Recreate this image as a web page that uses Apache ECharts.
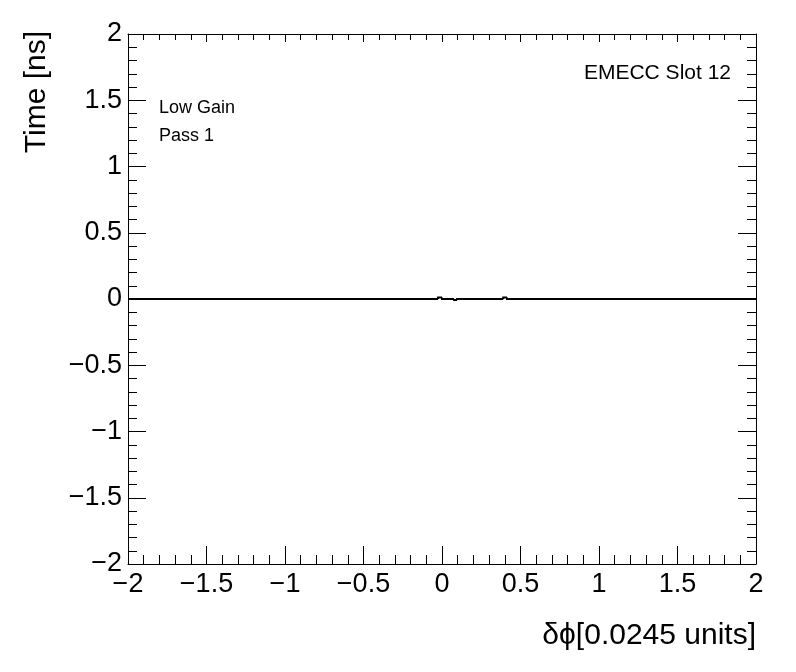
<!DOCTYPE html>
<html><head><meta charset="utf-8">
<script src="https://cdn.jsdelivr.net/npm/echarts@6/dist/echarts.min.js"></script>
<style>html,body{margin:0;padding:0;background:#fff}#c{width:796px;height:672px}</style>
</head><body><div id="c"></div>
<script>
// Data (histogram: bin lower edges and value of each bin; last edge closes the range)
const binEdges = [-2, -0.025, 0.0, 0.077, 0.096, 0.39, 0.414, 2];
const binTime  = [0, 0.012, 0, -0.008, 0, 0.012, 0];
const xTitle = 'δϕ[0.0245 units]';
const yTitle = 'Time [ns]';
const labels = ['EMECC Slot 12', 'Low Gain', 'Pass 1'];

// one record per bin: [low edge, high edge, value, previous bin value]
const bins = binTime.map((v, i) => [binEdges[i], binEdges[i + 1], v, i > 0 ? binTime[i - 1] : v]);

const FONT = '"Liberation Sans", Arial, Helvetica, sans-serif';
const fmt = v => String(+v.toFixed(2)).replace('-', '\u2212');
const chart = echarts.init(document.getElementById('c'), null, {renderer: 'canvas'});
const grid = {left: 128, top: 34, right: 40, bottom: 108};
function axisBase(show) {
  return {
    type: 'value', min: -2, max: 2, interval: 0.5,
    axisLine: {show: true, onZero: false, lineStyle: {color: '#000', width: 1}},
    axisTick: {show: true, inside: true, length: 18, lineStyle: {color: '#000', width: 1}},
    minorTick: {show: true, splitNumber: 5, length: 9, lineStyle: {color: '#000', width: 1}},
    splitLine: {show: false},
    axisLabel: {show: show, color: '#000', fontSize: 27, fontFamily: FONT, formatter: fmt},
  };
}
const xb = axisBase(true); xb.position = 'bottom'; xb.axisLabel.margin = 7;
const xt = axisBase(false); xt.position = 'top'; xt.axisTick.length = 8; xt.minorTick.length = 6;
const yl = axisBase(true); yl.position = 'left'; yl.axisLabel.margin = 6;
const yr = axisBase(false); yr.position = 'right'; yr.axisTick.length = 18; yr.minorTick.length = 9;

chart.setOption({
  animation: false,
  grid: grid,
  xAxis: [xb, xt],
  yAxis: [yl, yr],
  series: [{
    type: 'custom', xAxisIndex: 0, yAxisIndex: 0,
    data: bins,
    encode: {x: [0, 1], y: 2},
    renderItem: function (params, api) {
      const lo = api.value(0), hi = api.value(1), v = api.value(2), pv = api.value(3);
      return {
        type: 'polyline',
        shape: {points: [api.coord([lo, pv]), api.coord([lo, v]), api.coord([hi, v])]},
        style: {stroke: '#000', lineWidth: 2, fill: null}
      };
    }
  }],
  graphic: [
    {type: 'text', x: 756, y: 621, style: {text: xTitle, font: '30px ' + FONT, fill: '#000', align: 'right', verticalAlign: 'top'}},
    {type: 'text', x: 22, y: 31, rotation: Math.PI / 2,
      style: {text: yTitle, font: '30px ' + FONT, fill: '#000', align: 'right', verticalAlign: 'top'}},
    {type: 'text', x: 731, y: 63, style: {text: labels[0], font: '21px ' + FONT, fill: '#000', align: 'right', verticalAlign: 'top'}},
    {type: 'text', x: 159, y: 99, style: {text: labels[1], font: '18px ' + FONT, fill: '#000', verticalAlign: 'top'}},
    {type: 'text', x: 159, y: 127, style: {text: labels[2], font: '18px ' + FONT, fill: '#000', verticalAlign: 'top'}}
  ]
});
</script></body></html>
